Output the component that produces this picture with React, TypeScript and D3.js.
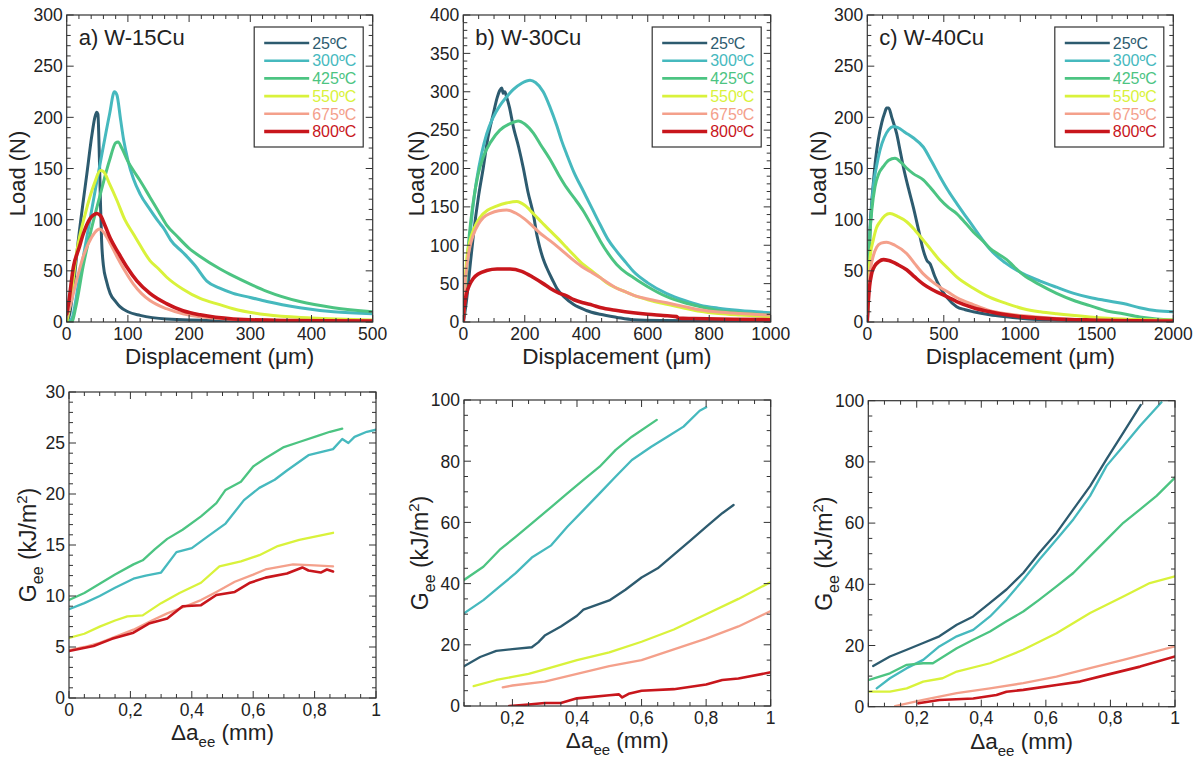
import React from "react";
import * as d3 from "d3";

type Pt = [number, number];

// ---------- DATA ----------
const temperatures = ["25ºC", "300ºC", "425ºC", "550ºC", "675ºC", "800ºC"];
const panelTitles = ["a) W-15Cu", "b) W-30Cu", "c) W-40Cu"];

// Load–displacement, W-15Cu (µm, N)
const loadW15: Pt[][] = [
  [[0,0],[5,8],[10,30],[19,80],[27,118],[33,145],[41,182],[46,200],[49,205],[51,203],[53,170],[55,120],[57,80],[60,55],[65,40],[71,28],[80,20],[87,15],[100,10],[120,6.5],[163,3],[250,1.5],[500,0.5]],
  [[0,0],[8,3],[20,40],[35,90],[50,140],[60,172],[70,203],[78,225],[82,222],[88,198],[93,178],[100,158],[109,140],[120,125],[136,110],[150,98],[158,92],[165,85],[170,80],[190,68],[210,55],[229,40],[250,33],[272,28],[300,24],[327,20],[381,14],[436,10],[500,8]],
  [[0,0],[8,0],[15,15],[27,55],[40,90],[55,125],[70,158],[80,175],[84,176],[90,170],[100,157],[109,148],[120,138],[136,122],[150,108],[163,95],[180,84],[200,72],[218,64],[250,52],[272,45],[300,37],[327,30],[381,20],[436,14],[500,10]],
  [[0,0],[5,15],[16,67],[30,105],[45,135],[55,148],[60,147],[70,135],[82,119],[95,100],[109,86],[120,75],[136,60],[150,52],[163,44],[190,32],[218,23],[250,17],[272,13],[327,7],[400,4],[500,2]],
  [[0,5],[8,21],[18,45],[27,64],[41,83],[50,90],[54,91],[60,88],[70,78],[82,64],[95,50],[109,37],[122,28],[136,21],[163,13],[190,8],[218,5],[300,2],[500,1]],
  [[0,8],[3,18],[11,54],[20,72],[27,86],[38,101],[45,105],[49,106],[55,104],[62,95],[71,82],[85,67],[98,54],[115,40],[136,28],[163,18],[190,11],[218,7],[272,3],[350,1.5],[500,1]],
];

// Load–displacement, W-30Cu
const loadW30: Pt[][] = [
  [[0,0],[5,12],[11,30],[20,65],[33,114],[50,165],[65,201],[80,240],[98,272],[110,292],[119,302],[125,305],[130,298],[135,300],[141,293],[150,280],[163,254],[180,228],[195,201],[210,170],[228,140],[240,112],[249,97],[260,82],[271,71],[290,55],[304,44],[330,32],[358,23],[400,15],[445,10],[500,6],[553,3],[650,2],[1000,1]],
  [[0,0],[5,36],[12,70],[22,114],[32,152],[43,184],[60,220],[76,245],[95,265],[119,282],[140,293],[163,303],[190,311],[217,315],[235,312],[260,300],[282,280],[304,256],[320,236],[336,219],[360,195],[390,171],[420,147],[445,127],[470,108],[499,92],[530,77],[553,66],[600,51],[662,37],[720,28],[770,22],[830,18],[900,15],[1000,12]],
  [[0,0],[5,30],[11,70],[20,115],[33,158],[48,192],[65,215],[90,235],[119,250],[150,258],[179,262],[200,258],[228,246],[250,232],[282,212],[310,192],[336,175],[360,162],[390,145],[420,124],[445,106],[470,90],[499,75],[530,64],[553,58],[600,46],[662,33],[720,25],[770,20],[830,15],[900,12],[1000,9]],
  [[0,0],[5,49],[12,85],[22,106],[35,122],[54,136],[80,146],[108,151],[140,155],[174,157],[200,152],[228,141],[255,130],[282,119],[310,108],[336,97],[360,87],[390,75],[420,66],[445,58],[470,50],[499,44],[530,39],[553,35],[600,29],[662,23],[720,18],[770,14],[830,11],[900,9],[1000,7]],
  [[0,0],[5,45],[11,70],[20,95],[33,114],[50,128],[65,136],[90,142],[115,145],[141,146],[170,142],[200,134],[228,124],[255,114],[282,106],[310,97],[336,88],[360,80],[390,71],[420,64],[445,58],[470,51],[499,44],[530,39],[553,35],[600,30],[662,25],[720,20],[770,16],[830,13],[900,11],[1000,9]],
  [[0,0],[2,14],[6,28],[11,38],[20,48],[33,57],[50,63],[76,67],[110,69],[152,69],[190,66],[228,58],[260,50],[282,44],[310,38],[336,34],[360,29],[390,25],[420,22],[445,19],[500,15],[553,12],[600,10],[650,8.5],[694,7],[700,5],[750,4.5],[879,3.5],[1000,3]],
];

// Load–displacement, W-40Cu
const loadW40: Pt[][] = [
  [[0,0],[7,21],[12,55],[17,86],[28,115],[39,135],[55,160],[72,178],[95,195],[115,205],[126,209],[140,209],[160,200],[192,184],[215,167],[235,152],[270,130],[301,112],[335,90],[366,70],[390,60],[410,57],[440,45],[475,34],[520,24],[584,15],[640,12],[693,10],[800,7],[911,5],[1050,3],[1237,2],[1500,1.5],[2000,1]],
  [[0,0],[6,40],[10,65],[17,86],[28,112],[39,132],[60,152],[83,168],[110,180],[140,188],[170,191],[200,190],[250,185],[300,180],[366,171],[420,157],[475,142],[530,128],[584,116],[640,104],[693,93],[750,81],[802,71],[900,58],[1020,47],[1130,40],[1237,34],[1350,28],[1455,24],[1560,21],[1673,18],[1780,14],[1891,11],[2000,10]],
  [[0,0],[6,40],[10,65],[17,86],[30,110],[50,132],[75,145],[105,152],[140,158],[181,160],[220,156],[260,150],[300,145],[366,139],[420,130],[475,120],[530,112],[584,106],[640,97],[693,88],[750,80],[802,72],[860,66],[911,61],[960,54],[1020,46],[1120,37],[1237,28],[1350,21],[1455,16],[1560,11],[1673,8],[1780,5],[1891,3],[2000,2]],
  [[0,0],[5,25],[11,47],[20,65],[39,80],[60,92],[83,98],[115,104],[148,106],[200,103],[257,98],[310,90],[366,80],[420,70],[475,60],[530,52],[584,44],[693,33],[802,24],[911,18],[1020,13],[1130,10],[1237,8],[1455,5],[1673,3],[2000,2]],
  [[0,0],[5,22],[11,37],[25,55],[40,65],[61,73],[90,77],[126,78],[180,75],[257,67],[310,57],[366,47],[420,40],[475,34],[530,29],[584,24],[693,17],[802,11],[911,8],[1020,6],[1237,3.5],[1455,2],[2000,1]],
  [[0,0],[3,12],[7,21],[15,35],[28,47],[50,55],[75,59],[105,61],[140,60],[200,56],[257,51],[310,44],[366,37],[420,32],[475,28],[530,24],[584,20],[693,14],[802,10],[911,7],[1020,5],[1237,3],[1455,2],[2000,1]],
];

// G_ee vs Δa_ee, W-15Cu (mm, kJ/m²) — no 25ºC curve
const geeW15: (Pt[] | null)[] = [
  null,
  [[0,8.7],[0.05,9.3],[0.1,10.0],[0.15,10.8],[0.21,11.7],[0.25,12.0],[0.3,12.3],[0.35,14.3],[0.4,14.7],[0.45,15.8],[0.51,17.1],[0.57,19.4],[0.62,20.6],[0.67,21.4],[0.71,22.3],[0.78,23.8],[0.86,24.4],[0.89,25.4],[0.91,25.0],[0.93,25.6],[0.97,26.1],[1,26.3]],
  [[0,9.6],[0.05,10.3],[0.1,11.2],[0.15,12.1],[0.21,13.1],[0.24,13.5],[0.28,14.6],[0.32,15.6],[0.37,16.5],[0.43,17.8],[0.48,19.1],[0.51,20.4],[0.56,21.2],[0.6,22.7],[0.64,23.5],[0.7,24.6],[0.75,25.1],[0.81,25.7],[0.85,26.1],[0.89,26.4]],
  [[0,5.9],[0.05,6.3],[0.1,7.0],[0.15,7.6],[0.19,8.0],[0.24,8.1],[0.3,9.3],[0.36,10.3],[0.43,11.3],[0.49,12.9],[0.56,13.4],[0.62,14.0],[0.68,14.9],[0.75,15.5],[0.86,16.2]],
  [[0,4.7],[0.05,5.0],[0.1,5.4],[0.15,6.0],[0.21,6.7],[0.27,7.6],[0.32,8.3],[0.38,9.0],[0.43,9.6],[0.48,10.4],[0.54,11.4],[0.6,12.1],[0.64,12.6],[0.73,13.1],[0.8,13.0],[0.86,12.9]],
  [[0,4.6],[0.08,5.1],[0.14,5.8],[0.21,6.4],[0.26,7.3],[0.32,7.8],[0.37,9.0],[0.43,9.1],[0.48,10.1],[0.54,10.4],[0.59,11.3],[0.64,11.8],[0.71,12.2],[0.76,12.8],[0.78,12.5],[0.82,12.3],[0.84,12.6],[0.86,12.4]],
];

// G_ee vs Δa_ee, W-30Cu
const geeW30: (Pt[] | null)[] = [
  [[0.05,13],[0.1,16],[0.15,18],[0.2,18.6],[0.26,19.2],[0.28,20.8],[0.3,23],[0.35,26],[0.4,29.5],[0.42,31.5],[0.5,34.5],[0.55,38],[0.6,42],[0.65,45],[0.7,49.5],[0.75,54],[0.8,58.5],[0.85,63],[0.885,65.7]],
  [[0.05,30.3],[0.11,34.6],[0.16,39],[0.21,43.4],[0.26,48.5],[0.32,52.5],[0.37,58.6],[0.42,64],[0.47,69.5],[0.52,75],[0.57,80.4],[0.63,84.7],[0.68,88],[0.73,91.3],[0.78,96.5],[0.8,97.6]],
  [[0.05,41.2],[0.11,45.5],[0.16,51],[0.21,55.3],[0.26,59.7],[0.32,65],[0.37,69.5],[0.42,73.9],[0.47,78.2],[0.52,83.7],[0.57,88],[0.647,93.5]],
  [[0.08,6.5],[0.15,8.5],[0.2,9.5],[0.25,10.5],[0.3,12],[0.4,15],[0.5,17.5],[0.6,21],[0.7,25],[0.8,30],[0.9,35],[1,40.5]],
  [[0.17,6.1],[0.2,6.7],[0.3,8],[0.4,10.5],[0.5,13],[0.6,15],[0.7,18.5],[0.8,22],[0.9,26],[1,31]],
  [[0.19,0],[0.25,0.5],[0.3,1],[0.35,1],[0.4,2.5],[0.5,3.5],[0.53,3.8],[0.54,2.8],[0.56,4],[0.6,5],[0.7,5.5],[0.8,7],[0.85,8.5],[0.9,9],[1,11]],
];

// G_ee vs Δa_ee, W-40Cu
const geeW40: (Pt[] | null)[] = [
  [[0.065,13.3],[0.117,16.4],[0.169,18.6],[0.22,20.8],[0.27,23],[0.324,26.8],[0.375,29.5],[0.427,33.9],[0.478,38.3],[0.53,43.7],[0.58,50.3],[0.633,56.8],[0.685,64.5],[0.737,72.1],[0.788,80.9],[0.84,89.6],[0.894,98.6]],
  [[0.076,6],[0.117,9.3],[0.169,12.6],[0.22,15.3],[0.27,19.7],[0.324,23],[0.375,25.1],[0.427,29.5],[0.478,35],[0.53,41.5],[0.58,48.1],[0.633,54.6],[0.685,61.2],[0.737,68.9],[0.788,78.7],[0.84,85.2],[0.892,91.8],[0.958,99.5]],
  [[0.05,8.7],[0.117,10.9],[0.169,13.7],[0.22,14.2],[0.25,14.2],[0.324,19.1],[0.375,21.9],[0.427,24.6],[0.478,27.9],[0.53,31.1],[0.58,35],[0.633,39.3],[0.685,43.7],[0.737,49.2],[0.788,54.6],[0.84,60.1],[0.892,64.5],[0.943,68.9],[1,74.9]],
  [[0.05,4.9],[0.117,4.9],[0.169,6],[0.22,8.2],[0.28,9.3],[0.324,11.5],[0.427,14.2],[0.53,18.6],[0.633,24],[0.737,30.6],[0.84,36],[0.922,40.4],[1,42.6]],
  [[0.133,0.2],[0.22,2.2],[0.324,4.4],[0.427,6],[0.53,7.7],[0.633,9.8],[0.737,12.6],[0.84,15.3],[1,19.7]],
  [[0.205,1.1],[0.27,2.2],[0.375,2.7],[0.447,3.8],[0.478,4.9],[0.53,5.5],[0.633,7.1],[0.706,8.2],[0.788,10.4],[0.892,13.1],[1,16.4]],
];

// ---------- STYLE / LAYOUT ----------
const seriesColors = ["#2d5b6f", "#46b9be", "#4cc482", "#d9f23b", "#f4a08b", "#c8161c"];
const FONT = "'Liberation Sans', Arial, Helvetica, sans-serif";
const INK = "#222";

type PanelCfg = {
  frame: [number, number, number, number]; // x0,x1,y0,y1
  xDomain: [number, number];
  yDomain: [number, number];
  xMajor: number; xMinor: number;
  yMajor: number; yMinor: number;
  series: (Pt[] | null)[];
  kind: "load" | "gee";
  title?: string;
  yTitleX: number;
};

const panels: PanelCfg[] = [
  { frame: [66.7, 372.7, 15, 322], xDomain: [0, 500], yDomain: [0, 300], xMajor: 100, xMinor: 20, yMajor: 50, yMinor: 10, series: loadW15, kind: "load", title: panelTitles[0], yTitleX: 25 },
  { frame: [463.3, 770.7, 15, 322], xDomain: [0, 1000], yDomain: [0, 400], xMajor: 200, xMinor: 50, yMajor: 50, yMinor: 10, series: loadW30, kind: "load", title: panelTitles[1], yTitleX: 424 },
  { frame: [867.3, 1173.3, 15, 322], xDomain: [0, 2000], yDomain: [0, 300], xMajor: 500, xMinor: 100, yMajor: 50, yMinor: 10, series: loadW40, kind: "load", title: panelTitles[2], yTitleX: 826 },
  { frame: [69, 376, 392, 698], xDomain: [0, 1], yDomain: [0, 30], xMajor: 0.2, xMinor: 0.05, yMajor: 5, yMinor: 1, series: geeW15, kind: "gee", yTitleX: 36 },
  { frame: [464, 770.7, 400, 706], xDomain: [0.05, 1], yDomain: [0, 100], xMajor: 0.2, xMinor: 0.05, yMajor: 20, yMinor: 5, series: geeW30, kind: "gee", yTitleX: 428 },
  { frame: [868.3, 1175, 400.7, 706.7], xDomain: [0.05, 1], yDomain: [0, 100], xMajor: 0.2, xMinor: 0.05, yMajor: 20, yMinor: 5, series: geeW40, kind: "gee", yTitleX: 832 },
];

function stepTicks(d0: number, d1: number, step: number): number[] {
  const out: number[] = [];
  const i0 = Math.ceil(d0 / step - 1e-6);
  const i1 = Math.floor(d1 / step + 1e-6);
  for (let i = i0; i <= i1; i++) out.push(+(i * step).toFixed(6));
  return out;
}

function fmtGee(v: number): string {
  if (Math.abs(v) < 1e-9) return "0";
  if (Math.abs(v - 1) < 1e-9) return "1";
  return String(+v.toFixed(1)).replace(".", ",");
}

function Panel({ cfg, idx }: { cfg: PanelCfg; idx: number }) {
  const [x0, x1, y0, y1] = cfg.frame;
  const x = d3.scaleLinear().domain(cfg.xDomain).range([x0, x1]);
  const y = d3.scaleLinear().domain(cfg.yDomain).range([y1, y0]);
  const isLoad = cfg.kind === "load";
  const line = d3
    .line<Pt>()
    .x((d) => x(d[0]))
    .y((d) => y(d[1]))
    .curve(isLoad ? d3.curveMonotoneX : d3.curveLinear);

  const xMaj = stepTicks(cfg.xDomain[0], cfg.xDomain[1], cfg.xMajor);
  const xMin = stepTicks(cfg.xDomain[0], cfg.xDomain[1], cfg.xMinor);
  const yMaj = stepTicks(cfg.yDomain[0], cfg.yDomain[1], cfg.yMajor);
  const yMin = stepTicks(cfg.yDomain[0], cfg.yDomain[1], cfg.yMinor);
  const MAJ = 7, MIN = 4;
  const clipId = `clip${idx}`;
  const xFmt = isLoad ? (v: number) => String(v) : fmtGee;
  const cx = (x0 + x1) / 2;
  const cy = (y0 + y1) / 2;

  const ticks: JSX.Element[] = [];
  xMin.forEach((v, i) => {
    const len = xMaj.some((m) => Math.abs(m - v) < 1e-6) ? MAJ : MIN;
    const px = x(v);
    ticks.push(<line key={`xb${i}`} x1={px} x2={px} y1={y1} y2={y1 - len} />);
    ticks.push(<line key={`xt${i}`} x1={px} x2={px} y1={y0} y2={y0 + len} />);
  });
  yMin.forEach((v, i) => {
    const len = yMaj.some((m) => Math.abs(m - v) < 1e-6) ? MAJ : MIN;
    const py = y(v);
    ticks.push(<line key={`yl${i}`} x1={x0} x2={x0 + len} y1={py} y2={py} />);
    ticks.push(<line key={`yr${i}`} x1={x1} x2={x1 - len} y1={py} y2={py} />);
  });

  const lw = (i: number) => (isLoad ? (i === 5 ? 3.6 : 3) : i === 5 ? 2.6 : 2.3);

  // legend
  const lgW = 109, lgH = 120;
  const lgX = x1 - 9.5 - lgW, lgY = 27;

  return (
    <g>
      <defs>
        <clipPath id={clipId}>
          <rect x={x0} y={y0} width={x1 - x0} height={y1 - y0} />
        </clipPath>
      </defs>
      <g clipPath={`url(#${clipId})`} fill="none" strokeLinejoin="round" strokeLinecap="round">
        {cfg.series.map((s, i) =>
          s ? <path key={i} d={line(s) || ""} stroke={seriesColors[i]} strokeWidth={lw(i)} /> : null
        )}
      </g>
      <rect x={x0} y={y0} width={x1 - x0} height={y1 - y0} fill="none" stroke="#333" strokeWidth={1.2} />
      <g stroke="#333" strokeWidth={1}>{ticks}</g>
      <g fontFamily={FONT} fontSize={17.5} fill={INK}>
        {xMaj.map((v, i) => (
          <text key={`xl${i}`} x={x(v)} y={y1 + 17.5} textAnchor="middle">{xFmt(v)}</text>
        ))}
        {yMaj.map((v, i) => (
          <text key={`yl${i}`} x={x0 - 4} y={y(v)} dy="0.36em" textAnchor="end">{String(v)}</text>
        ))}
      </g>
      {isLoad ? (
        <g fontFamily={FONT} fill={INK}>
          <text x={cx} y={y1 + 42} textAnchor="middle" fontSize={22.5}>Displacement (μm)</text>
          <text transform={`translate(${cfg.yTitleX},${cy + 5}) rotate(-90)`} textAnchor="middle" fontSize={22}>Load (N)</text>
          <text x={x0 + 12} y={y0 + 30} fontSize={22}>{cfg.title}</text>
        </g>
      ) : (
        <g fontFamily={FONT} fill={INK}>
          <text x={cx} y={y1 + 42} textAnchor="middle" fontSize={22.5}>
            Δa<tspan dy={7} fontSize={15}>ee</tspan><tspan dy={-7}> (mm)</tspan>
          </text>
          <text transform={`translate(${cfg.yTitleX},${cy}) rotate(-90)`} textAnchor="middle" fontSize={23}>
            G<tspan dy={7} fontSize={16}>ee</tspan><tspan dy={-7}> (kJ/m</tspan><tspan dy={-9} fontSize={15}>2</tspan><tspan dy={9}>)</tspan>
          </text>
        </g>
      )}
      {isLoad && (
        <g>
          <rect x={lgX} y={lgY} width={lgW} height={lgH} fill="#fff" stroke="#333" strokeWidth={1.2} />
          {temperatures.map((t, i) => {
            const ry = lgY + 16 + i * 17.7;
            return (
              <g key={t}>
                <line x1={lgX + 10} x2={lgX + 55} y1={ry} y2={ry} stroke={seriesColors[i]} strokeWidth={i === 5 ? 3.4 : 2.6} />
                <text x={lgX + 58} y={ry} dy="0.36em" fontFamily={FONT} fontSize={16} fill={seriesColors[i]}>{t}</text>
              </g>
            );
          })}
        </g>
      )}
    </g>
  );
}

export default function App() {
  return (
    <svg
      width={1199}
      height={760}
      viewBox="0 0 1199 760"
      style={{ position: "absolute", left: 0, top: 0, background: "#fff" }}
    >
      <rect x={0} y={0} width={1199} height={760} fill="#fff" />
      {panels.map((p, i) => (
        <Panel key={i} cfg={p} idx={i} />
      ))}
    </svg>
  );
}
